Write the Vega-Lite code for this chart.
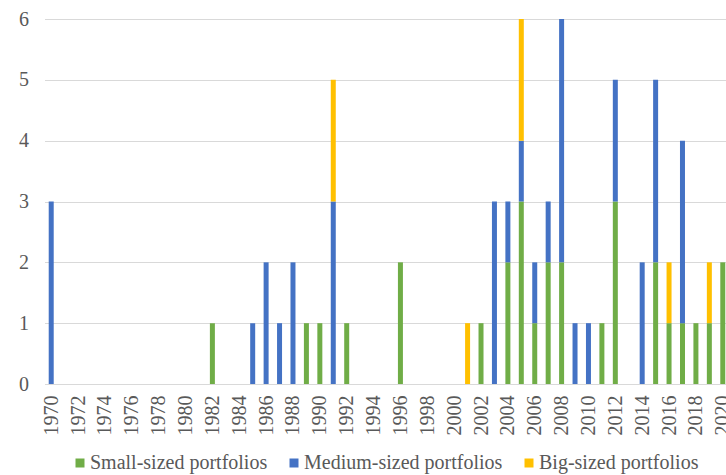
{
  "$schema": "https://vega.github.io/schema/vega-lite/v6.json",
  "autosize": {"type": "none"},
  "padding": {"left": 44.5, "top": 19, "right": 0, "bottom": 91},
  "width": 681.5,
  "height": 365,
  "background": "white",
  "config": {"view": {"stroke": null}, "font": "Liberation Serif"},
  "data": {
    "values": [
      {"year": 1970, "size": "Medium-sized portfolios", "count": 3},
      {"year": 1982, "size": "Small-sized portfolios", "count": 1},
      {"year": 1985, "size": "Medium-sized portfolios", "count": 1},
      {"year": 1986, "size": "Medium-sized portfolios", "count": 2},
      {"year": 1987, "size": "Medium-sized portfolios", "count": 1},
      {"year": 1988, "size": "Medium-sized portfolios", "count": 2},
      {"year": 1989, "size": "Small-sized portfolios", "count": 1},
      {"year": 1990, "size": "Small-sized portfolios", "count": 1},
      {"year": 1991, "size": "Medium-sized portfolios", "count": 3},
      {"year": 1991, "size": "Big-sized portfolios", "count": 2},
      {"year": 1992, "size": "Small-sized portfolios", "count": 1},
      {"year": 1996, "size": "Small-sized portfolios", "count": 2},
      {"year": 2001, "size": "Big-sized portfolios", "count": 1},
      {"year": 2002, "size": "Small-sized portfolios", "count": 1},
      {"year": 2003, "size": "Medium-sized portfolios", "count": 3},
      {"year": 2004, "size": "Small-sized portfolios", "count": 2},
      {"year": 2004, "size": "Medium-sized portfolios", "count": 1},
      {"year": 2005, "size": "Small-sized portfolios", "count": 3},
      {"year": 2005, "size": "Medium-sized portfolios", "count": 1},
      {"year": 2005, "size": "Big-sized portfolios", "count": 2},
      {"year": 2006, "size": "Small-sized portfolios", "count": 1},
      {"year": 2006, "size": "Medium-sized portfolios", "count": 1},
      {"year": 2007, "size": "Small-sized portfolios", "count": 2},
      {"year": 2007, "size": "Medium-sized portfolios", "count": 1},
      {"year": 2008, "size": "Small-sized portfolios", "count": 2},
      {"year": 2008, "size": "Medium-sized portfolios", "count": 4},
      {"year": 2009, "size": "Medium-sized portfolios", "count": 1},
      {"year": 2010, "size": "Medium-sized portfolios", "count": 1},
      {"year": 2011, "size": "Small-sized portfolios", "count": 1},
      {"year": 2012, "size": "Small-sized portfolios", "count": 3},
      {"year": 2012, "size": "Medium-sized portfolios", "count": 2},
      {"year": 2014, "size": "Medium-sized portfolios", "count": 2},
      {"year": 2015, "size": "Small-sized portfolios", "count": 2},
      {"year": 2015, "size": "Medium-sized portfolios", "count": 3},
      {"year": 2016, "size": "Small-sized portfolios", "count": 1},
      {"year": 2016, "size": "Big-sized portfolios", "count": 1},
      {"year": 2017, "size": "Small-sized portfolios", "count": 1},
      {"year": 2017, "size": "Medium-sized portfolios", "count": 3},
      {"year": 2018, "size": "Small-sized portfolios", "count": 1},
      {"year": 2019, "size": "Small-sized portfolios", "count": 1},
      {"year": 2019, "size": "Big-sized portfolios", "count": 1},
      {"year": 2020, "size": "Small-sized portfolios", "count": 2}
    ]
  },
  "transform": [
    {"calculate": "indexof(['Small-sized portfolios','Medium-sized portfolios','Big-sized portfolios'], datum.size)", "as": "sortKey"}
  ],
  "mark": {"type": "bar", "size": 5, "clip": true},
  "encoding": {
    "x": {
      "field": "year",
      "type": "quantitative",
      "scale": {"domain": [1969.5, 2020.24], "nice": false, "zero": false, "padding": 0},
      "axis": {
        "title": null,
        "values": [1970,1972,1974,1976,1978,1980,1982,1984,1986,1988,1990,1992,1994,1996,1998,2000,2002,2004,2006,2008,2010,2012,2014,2016,2018,2020],
        "format": "d",
        "labelAngle": -90,
        "labelAlign": "right",
        "labelBaseline": "middle",
        "labelFont": "Liberation Serif",
        "labelFontSize": 20,
        "labelColor": "#595959",
        "labelPadding": 11,
        "labelOverlap": false,
        "labelFlush": false,
        "labelBound": false,
        "ticks": false,
        "grid": false,
        "domain": true,
        "domainColor": "#D9D9D9",
        "domainWidth": 1
      }
    },
    "y": {
      "field": "count",
      "type": "quantitative",
      "stack": "zero",
      "scale": {"domain": [0, 6], "nice": false},
      "axis": {
        "title": null,
        "values": [0,1,2,3,4,5,6],
        "labelFont": "Liberation Serif",
        "labelFontSize": 20,
        "labelColor": "#595959",
        "labelPadding": 16,
        "ticks": false,
        "domain": false,
        "grid": true,
        "gridColor": "#D9D9D9",
        "gridWidth": 1
      }
    },
    "color": {
      "field": "size",
      "type": "nominal",
      "scale": {
        "domain": ["Small-sized portfolios", "Medium-sized portfolios", "Big-sized portfolios"],
        "range": ["#70AD47", "#4472C4", "#FFC000"]
      },
      "legend": {
        "title": null,
        "orient": "none",
        "legendX": 25.5,
        "legendY": 434,
        "direction": "horizontal",
        "padding": 0,
        "symbolType": "square",
        "symbolSize": 81,
        "symbolStrokeWidth": 0,
        "labelFont": "Liberation Serif",
        "labelFontSize": 20,
        "labelColor": "#595959",
        "labelLimit": 400,
        "labelOffset": 0,
        "columnPadding": 16
      }
    },
    "order": {"field": "sortKey", "type": "quantitative"}
  }
}
